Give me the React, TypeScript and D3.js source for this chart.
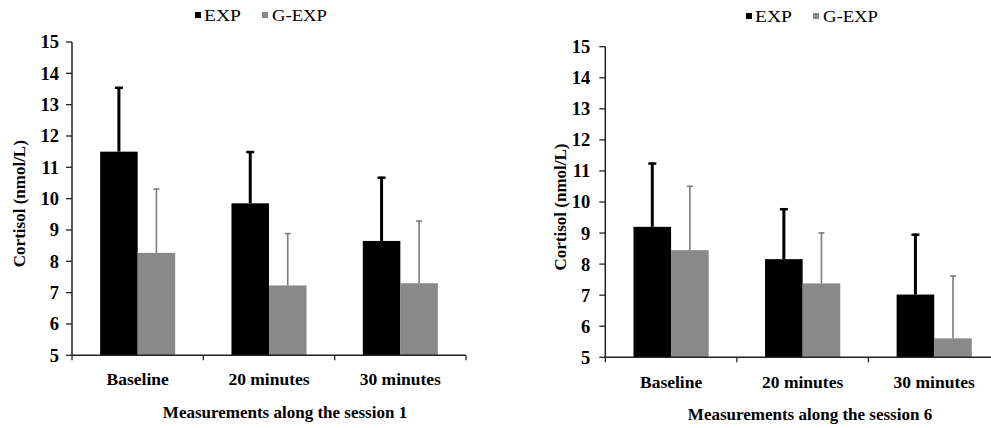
import React from "react";
import * as d3 from "d3";

const categories = ["Baseline", "20 minutes", "30 minutes"];
const seriesNames = ["EXP", "G-EXP"];
const yTicks = [5, 6, 7, 8, 9, 10, 11, 12, 13, 14, 15];

const s1Exp = [11.5, 9.85, 8.65];
const s1ExpSd = [2.07, 1.67, 2.05];
const s1GExp = [8.27, 7.23, 7.3];
const s1GExpSd = [2.05, 1.67, 2.0];

const s6Exp = [9.2, 8.16, 7.02];
const s6ExpSd = [2.07, 1.64, 1.96];
const s6GExp = [8.45, 7.38, 5.61];
const s6GExpSd = [2.07, 1.64, 2.02];

const FONT = "'Liberation Serif', 'Times New Roman', serif";
const COLORS = ["#000000", "#898989"];
const ERR_COLORS = ["#000000", "#7d7d7d"];

type PanelProps = {
  x0: number; x1: number; yTop: number; yBottom: number;
  exp: number[]; expSd: number[]; gexp: number[]; gexpSd: number[];
  title: string; titleX: number; titleY: number; catY: number;
  ylabelX: number; legendX: number; legendY: number; tickGap: number;
};

function Panel(p: PanelProps) {
  const y = d3.scaleLinear().domain([5, 15]).range([p.yBottom, p.yTop]);
  const xc = d3.scaleBand<string>().domain(categories).range([p.x0, p.x1]).padding(0);
  const xs = d3.scaleBand<string>().domain(seriesNames).range([0, xc.bandwidth()]).paddingInner(0).paddingOuter(0.75);
  const vals = [p.exp, p.gexp];
  const sds = [p.expSd, p.gexpSd];
  const bounds = [p.x0, ...categories.map((c) => (xc(c) as number) + xc.bandwidth())];
  return (
    <g>
      {/* legend */}
      <g fontFamily={FONT} fontSize={17.5}>
        <rect x={p.legendX} y={p.legendY - 9} width={6} height={6} fill={COLORS[0]} />
        <text x={p.legendX + 9} y={p.legendY} fill="#000" textLength={37} lengthAdjust="spacingAndGlyphs">EXP</text>
        <rect x={p.legendX + 67} y={p.legendY - 9} width={6} height={6} fill={COLORS[1]} />
        <text x={p.legendX + 77} y={p.legendY} fill="#000" textLength={55} lengthAdjust="spacingAndGlyphs">G-EXP</text>
      </g>
      {/* bars */}
      {categories.map((c, ci) =>
        seriesNames.map((s, si) => {
          const bx = (xc(c) as number) + (xs(s) as number);
          const v = vals[si][ci];
          return (
            <rect key={c + s} x={bx} y={y(v)} width={xs.bandwidth()} height={y(5) - y(v)} fill={COLORS[si]} />
          );
        })
      )}
      {/* error bars */}
      {categories.map((c, ci) =>
        seriesNames.map((s, si) => {
          const cx = (xc(c) as number) + (xs(s) as number) + xs.bandwidth() / 2;
          const v = vals[si][ci];
          const top = y(v + sds[si][ci]);
          const w = si === 0 ? 3 : 1.6;
          const cw = si === 0 ? 8 : 6;
          return (
            <g key={"e" + c + s} stroke={ERR_COLORS[si]}>
              <line x1={cx} x2={cx} y1={y(v)} y2={top} strokeWidth={w} />
              <line x1={cx - cw / 2} x2={cx + cw / 2} y1={top + (si === 0 ? 1 : 0.5)} y2={top + (si === 0 ? 1 : 0.5)} strokeWidth={si === 0 ? 2.5 : 1.6} />
            </g>
          );
        })
      )}
      {/* y axis */}
      <line x1={p.x0} x2={p.x0} y1={y(15)} y2={y(5)} stroke="#222" strokeWidth={1.5} />
      {yTicks.map((t) => (
        <g key={t}>
          <line x1={p.x0 - 6} x2={p.x0} y1={y(t)} y2={y(t)} stroke="#222" strokeWidth={1.3} />
          <text x={p.x0 - p.tickGap} y={y(t)} dy="0.35em" textAnchor="end" fontFamily={FONT} fontWeight="bold" fontSize={18.5}>
            {t}
          </text>
        </g>
      ))}
      {/* x axis */}
      <line x1={p.x0} x2={p.x1} y1={y(5)} y2={y(5)} stroke="#222" strokeWidth={1.5} />
      {bounds.map((b, i) => (
        <line key={i} x1={b} x2={b} y1={y(5)} y2={y(5) + 5} stroke="#222" strokeWidth={1.3} />
      ))}
      {categories.map((c) => (
        <text key={c} x={(xc(c) as number) + xc.bandwidth() / 2} y={p.catY} textAnchor="middle" fontFamily={FONT} fontWeight="bold" fontSize={17.5}>
          {c}
        </text>
      ))}
      <text x={p.titleX} y={p.titleY} textAnchor="middle" fontFamily={FONT} fontWeight="bold" fontSize={17}>
        {p.title}
      </text>
      <text transform={`translate(${p.ylabelX},${(p.yTop + p.yBottom) / 2 + 5}) rotate(-90)`} textAnchor="middle" fontFamily={FONT} fontWeight="bold" fontSize={17} dy="0.35em">
        Cortisol (nmol/L)
      </text>
    </g>
  );
}

export default function App() {
  return (
    <svg width={991} height={428} style={{ position: "absolute", left: 0, top: 0, background: "#fff" }}>
      <rect width={991} height={428} fill="#fff" />
      <Panel x0={72} x1={466} yTop={42} yBottom={355.3} exp={s1Exp} expSd={s1ExpSd} gexp={s1GExp} gexpSd={s1GExpSd}
        title="Measurements along the session 1" titleX={285} titleY={418} catY={385} ylabelX={19} legendX={195} legendY={21} tickGap={13} />
      <Panel x0={605.3} x1={1000} yTop={46.7} yBottom={357.3} exp={s6Exp} expSd={s6ExpSd} gexp={s6GExp} gexpSd={s6GExpSd}
        title="Measurements along the session 6" titleX={810} titleY={420} catY={388} ylabelX={560} legendX={746} legendY={22} tickGap={15} />
    </svg>
  );
}
